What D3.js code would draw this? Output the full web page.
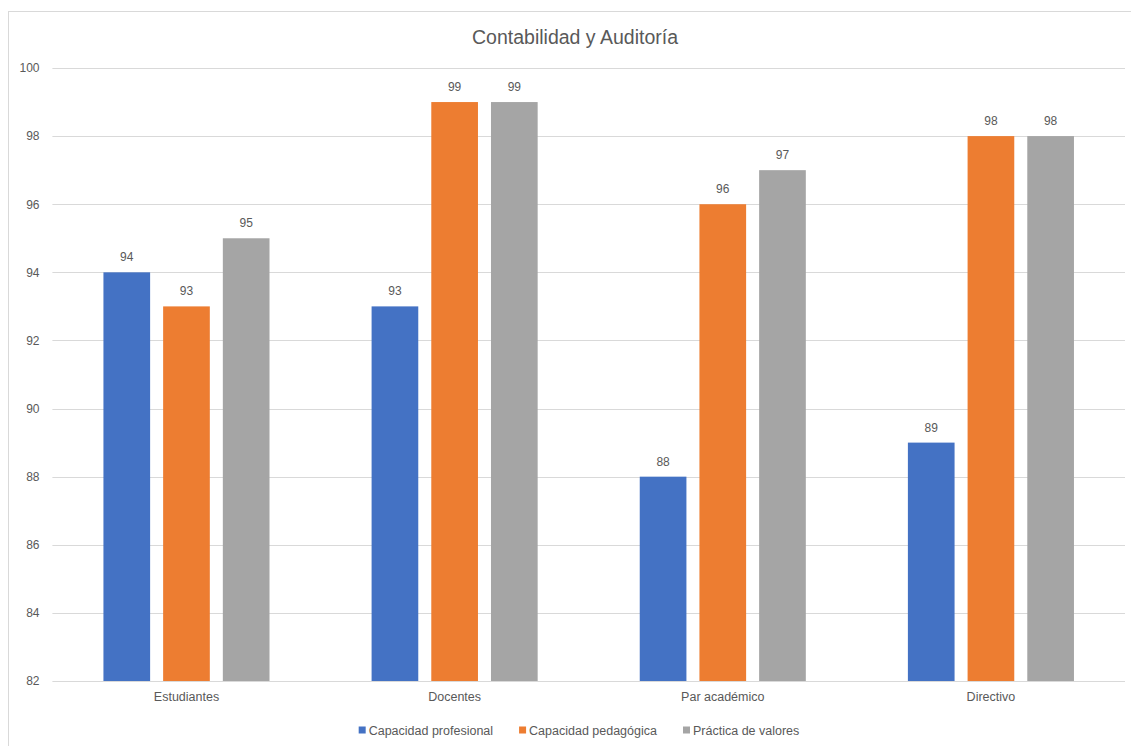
<!DOCTYPE html>
<html>
<head>
<meta charset="utf-8">
<script src="https://cdn.jsdelivr.net/npm/d3@7"></script>
<style>
  html, body { margin: 0; padding: 0; background: #fff; }
  svg { display: block; font-family: "Liberation Sans", Arial, sans-serif; }
</style>
</head>
<body>
<svg id="chart" width="1131" height="746"></svg>
<script>
const title = "Contabilidad y Auditoría";
const categories = ["Estudiantes", "Docentes", "Par académico", "Directivo"];
const seriesNames = ["Capacidad profesional", "Capacidad pedagógica", "Práctica de valores"];
const capacidadProfesional = [94, 93, 88, 89];
const capacidadPedagogica = [93, 99, 96, 98];
const practicaValores = [95, 99, 97, 98];
const yTicks = [82, 84, 86, 88, 90, 92, 94, 96, 98, 100];
const colors = ["#4472C4", "#ED7D31", "#A5A5A5"];

const seriesValues = [capacidadProfesional, capacidadPedagogica, practicaValores];
const svg = d3.select("#chart");
const textColor = "#595959";

// chart border
svg.append("rect")
  .attr("x", 8.5).attr("y", 11.5)
  .attr("width", 1140).attr("height", 750)
  .attr("fill", "#fff").attr("stroke", "#D9D9D9").attr("stroke-width", 1);

const plot = { left: 52.4, right: 1125, top: 68, bottom: 681 };

const x = d3.scaleBand().domain(categories).range([plot.left, plot.right]).paddingInner(0).paddingOuter(0);
const xs = d3.scaleBand().domain(seriesNames).range([0, x.bandwidth()]).paddingInner(0.218).paddingOuter(0.855);
const y = d3.scaleLinear().domain([82, 100]).range([plot.bottom, plot.top]);

// gridlines
svg.append("g").selectAll("line").data(yTicks).join("line")
  .attr("x1", plot.left).attr("x2", plot.right)
  .attr("y1", d => Math.round(y(d)) + 0.5).attr("y2", d => Math.round(y(d)) + 0.5)
  .attr("stroke", "#D9D9D9").attr("stroke-width", 1);

// y axis labels
const yAxis = d3.axisLeft(y).tickValues(yTicks).tickSize(0).tickPadding(0);
const yg = svg.append("g").attr("transform", `translate(39.5,0)`).call(yAxis);
yg.select(".domain").remove();
yg.selectAll("text").attr("fill", textColor).attr("font-size", 12)
  .attr("font-family", "Liberation Sans, Arial, sans-serif");

// x axis labels
const xAxis = d3.axisBottom(x).tickSize(0).tickPadding(0);
const xg = svg.append("g").attr("transform", `translate(0,${plot.bottom + 11})`).call(xAxis);
xg.select(".domain").remove();
xg.selectAll("text").attr("fill", textColor).attr("font-size", 12.5)
  .attr("font-family", "Liberation Sans, Arial, sans-serif");

// bars
const data = [];
categories.forEach((c, i) => {
  seriesNames.forEach((s, j) => data.push({ c, s, j, v: seriesValues[j][i] }));
});

svg.append("g").selectAll("rect").data(data).join("rect")
  .attr("x", d => x(d.c) + xs(d.s))
  .attr("y", d => y(d.v))
  .attr("width", xs.bandwidth())
  .attr("height", d => y(82) - y(d.v))
  .attr("fill", d => colors[d.j]);

// data labels
svg.append("g").selectAll("text").data(data).join("text")
  .attr("x", d => x(d.c) + xs(d.s) + xs.bandwidth() / 2)
  .attr("y", d => y(d.v) - 11)
  .attr("text-anchor", "middle")
  .attr("font-size", 12)
  .attr("fill", textColor)
  .text(d => d.v);

// title
svg.append("text")
  .attr("x", 575).attr("y", 44)
  .attr("text-anchor", "middle")
  .attr("font-size", 19.5)
  .attr("fill", textColor)
  .text(title);

// legend
const legend = svg.append("g");
const items = legend.selectAll("g").data(seriesNames).join("g");
items.append("rect").attr("width", 7).attr("height", 7).attr("y", -3.5)
  .attr("fill", (d, i) => colors[i]);
items.append("text").attr("x", 10).attr("y", 4.5)
  .attr("font-size", 12.5).attr("fill", textColor).text(d => d);
let pos = 0;
const gap = 26;
items.each(function() {
  const w = this.getBBox().width;
  this.__x = pos;
  pos += w + gap;
});
const totalW = pos - gap;
const startX = 579 - totalW / 2;
items.attr("transform", function() { return `translate(${startX + this.__x},730)`; });
</script>
</body>
</html>
